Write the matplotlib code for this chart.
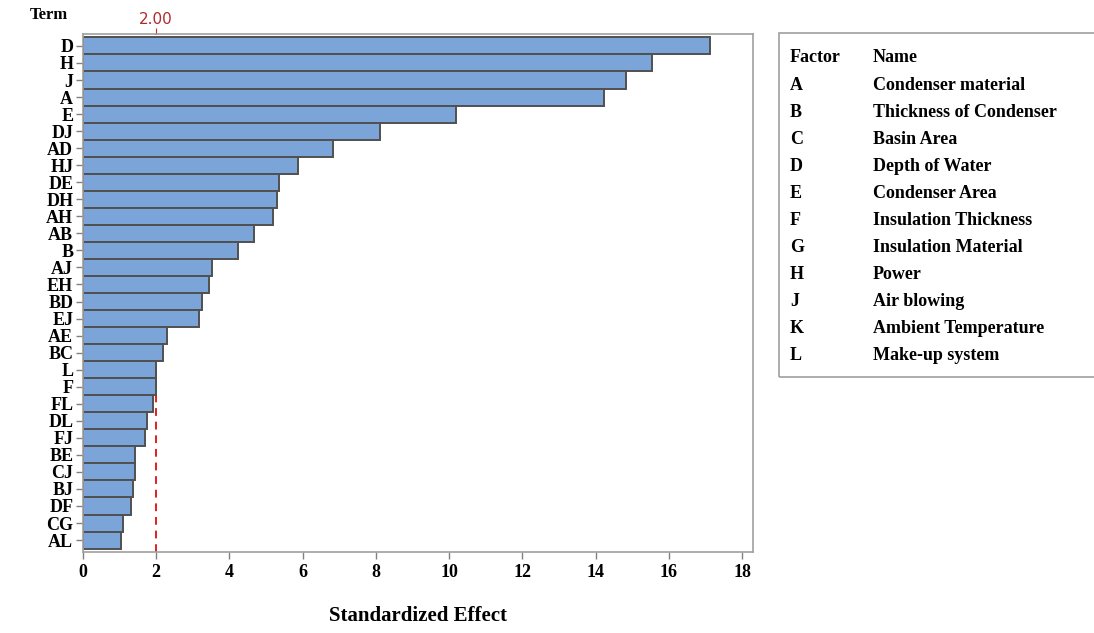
import matplotlib.pyplot as plt
from matplotlib.patches import Rectangle

terms = ["D", "H", "J", "A", "E", "DJ", "AD", "HJ", "DE", "DH", "AH", "AB", "B", "AJ", "EH",
         "BD", "EJ", "AE", "BC", "L", "F", "FL", "DL", "FJ", "BE", "CJ", "BJ", "DF", "CG", "AL"]
effects = [17.12, 15.53, 14.82, 14.22, 10.19, 8.11, 6.82, 5.86, 5.34, 5.29, 5.18, 4.66, 4.22, 3.51, 3.45,
           3.26, 3.18, 2.30, 2.19, 1.99, 1.99, 1.92, 1.75, 1.70, 1.42, 1.42, 1.37, 1.32, 1.10, 1.04]
ref_line = 2.00

factors = ["A", "B", "C", "D", "E", "F", "G", "H", "J", "K", "L"]
names = ["Condenser material", "Thickness of Condenser", "Basin Area", "Depth of Water",
         "Condenser Area", "Insulation Thickness", "Insulation Material", "Power",
         "Air blowing", "Ambient Temperature", "Make-up system"]

W, H = 1094, 633
fig = plt.figure(figsize=(W / 100, H / 100), dpi=100)
ax = fig.add_axes([83 / W, 1 - 552 / H, (753 - 83) / W, (552 - 34) / H])

serif = "Liberation Serif"
y = list(range(len(terms)))
ax.barh(y, effects, height=1.0, color="#7BA5D8", edgecolor="#505050", linewidth=1.4, zorder=2)
# reference line sits behind the bars
ax.axvline(ref_line, color="#E0201E", linestyle=(0, (4, 3)), linewidth=1.4, zorder=1)

ax.set_ylim(len(terms) - 0.3, -0.7)
ax.set_xlim(0, 18.3)
ax.set_xticks(range(0, 19, 2))
ax.set_yticks(y)
ax.set_yticklabels(terms, fontfamily=serif, fontweight="bold", fontsize=13)
for lbl in ax.get_xticklabels():
    lbl.set_fontfamily(serif)
    lbl.set_fontweight("bold")
    lbl.set_fontsize(13)
ax.tick_params(axis="both", colors="#808080", labelcolor="black", length=5, width=1)
ax.tick_params(axis="y", pad=2)
for s in ax.spines.values():
    s.set_color("#A0A0A0")
    s.set_linewidth(1.2)

ax.set_xlabel("Standardized Effect", fontfamily=serif, fontweight="bold", fontsize=15, labelpad=18)

# reference value label on top
sec = ax.secondary_xaxis("top")
sec.set_xticks([ref_line])
sec.set_xticklabels([f"{ref_line:.2f}"])
sec.tick_params(colors="#C0302B", labelcolor="#B02A2A", length=4, labelsize=11, pad=1)
sec.spines["top"].set_visible(False)

fig.text(30 / W, 1 - 15 / H, "Term", fontfamily=serif, fontweight="bold", fontsize=12,
         ha="left", va="center")

# factor legend box
fig.patches.append(Rectangle((779 / W, 1 - 377 / H), (1100 - 779) / W, (377 - 33) / H,
                             transform=fig.transFigure, fill=False, edgecolor="#A0A0A0",
                             linewidth=1.2))
fig.text(790 / W, 1 - 58 / H, "Factor", fontfamily=serif, fontweight="bold", fontsize=13,
         ha="left", va="center")
fig.text(873 / W, 1 - 58 / H, "Name", fontfamily=serif, fontweight="bold", fontsize=13,
         ha="left", va="center")
for i, (f, n) in enumerate(zip(factors, names)):
    yy = 1 - (85 + i * 27.1) / H
    fig.text(790 / W, yy, f, fontfamily=serif, fontweight="bold", fontsize=13, ha="left", va="center")
    fig.text(873 / W, yy, n, fontfamily=serif, fontweight="bold", fontsize=13, ha="left", va="center")

fig.savefig("out.png", dpi=100)
